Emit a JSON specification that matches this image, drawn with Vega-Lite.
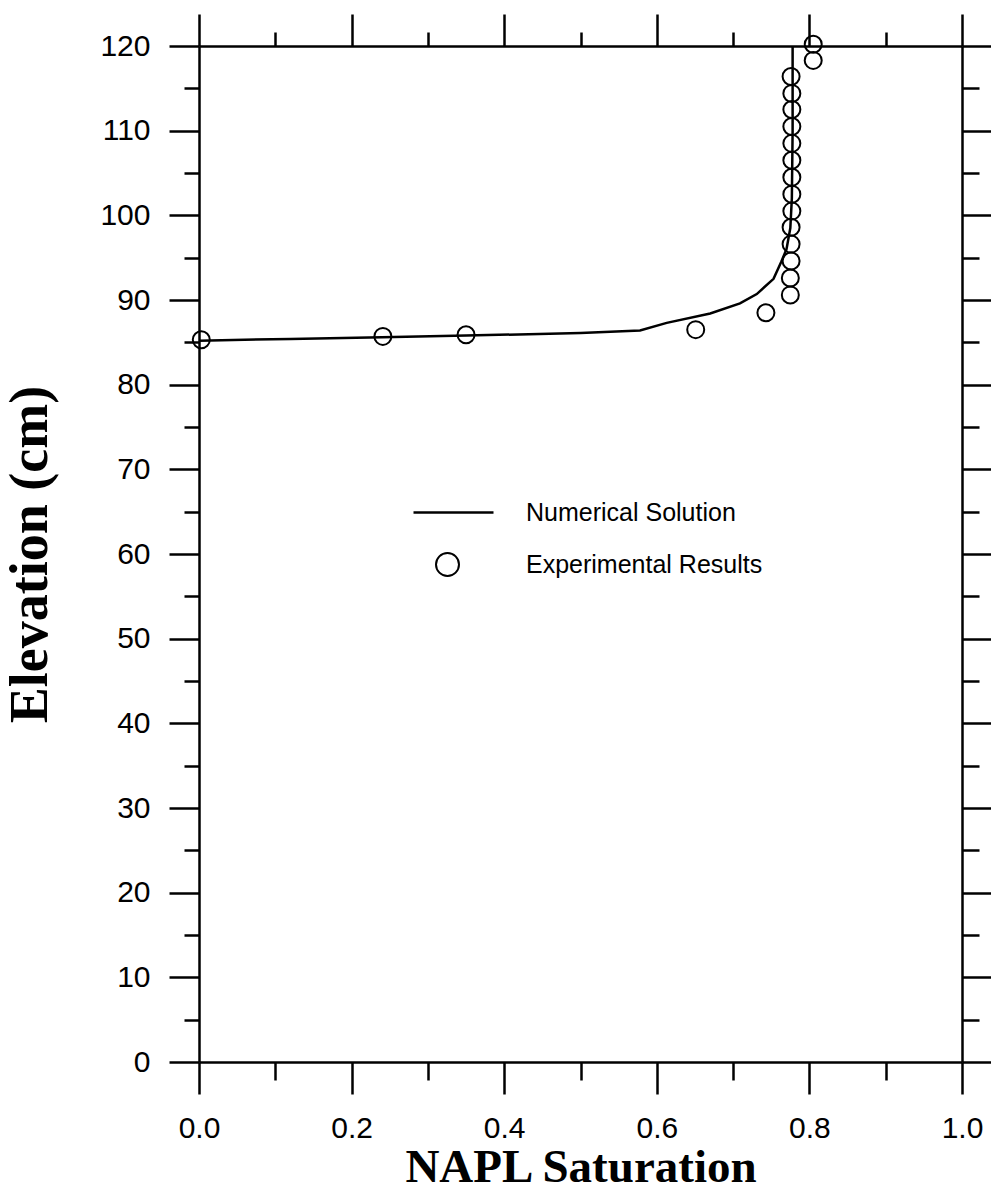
{
  "$schema": "https://vega.github.io/schema/vega-lite/v6.json",
  "width": 763,
  "height": 1016,
  "autosize": {"type": "none"},
  "padding": {"left": 199, "top": 46, "right": 29, "bottom": 129},
  "background": "white",
  "config": {
    "view": {"stroke": null},
    "axis": {
      "domainColor": "black",
      "domainWidth": 2.5,
      "tickColor": "black",
      "tickWidth": 2.5,
      "grid": false,
      "labelFont": "Liberation Sans",
      "labelColor": "black",
      "titleColor": "black",
      "titleFont": "Liberation Serif",
      "titleFontWeight": "bold"
    },
    "legend": {
      "labelFont": "Liberation Sans",
      "labelFontSize": 25,
      "labelColor": "black",
      "labelLimit": 500,
      "padding": 0
    }
  },
  "datasets": {
    "numerical": [
      {"s": 0.0, "e": 85.2, "series": "Numerical Solution"},
      {"s": 0.12, "e": 85.4, "series": "Numerical Solution"},
      {"s": 0.24, "e": 85.6, "series": "Numerical Solution"},
      {"s": 0.35, "e": 85.8, "series": "Numerical Solution"},
      {"s": 0.5, "e": 86.1, "series": "Numerical Solution"},
      {"s": 0.578, "e": 86.4, "series": "Numerical Solution"},
      {"s": 0.613, "e": 87.3, "series": "Numerical Solution"},
      {"s": 0.67, "e": 88.4, "series": "Numerical Solution"},
      {"s": 0.709, "e": 89.6, "series": "Numerical Solution"},
      {"s": 0.731, "e": 90.7, "series": "Numerical Solution"},
      {"s": 0.753, "e": 92.5, "series": "Numerical Solution"},
      {"s": 0.763, "e": 94.5, "series": "Numerical Solution"},
      {"s": 0.77, "e": 96.0, "series": "Numerical Solution"},
      {"s": 0.775, "e": 98.5, "series": "Numerical Solution"},
      {"s": 0.777, "e": 102, "series": "Numerical Solution"},
      {"s": 0.778, "e": 110, "series": "Numerical Solution"},
      {"s": 0.778, "e": 120, "series": "Numerical Solution"}
    ],
    "experimental": [
      {"s": 0.003, "e": 85.3, "series": "Experimental Results"},
      {"s": 0.241, "e": 85.7, "series": "Experimental Results"},
      {"s": 0.35, "e": 85.9, "series": "Experimental Results"},
      {"s": 0.651, "e": 86.5, "series": "Experimental Results"},
      {"s": 0.743, "e": 88.5, "series": "Experimental Results"},
      {"s": 0.775, "e": 90.6, "series": "Experimental Results"},
      {"s": 0.775, "e": 92.6, "series": "Experimental Results"},
      {"s": 0.776, "e": 94.6, "series": "Experimental Results"},
      {"s": 0.776, "e": 96.6, "series": "Experimental Results"},
      {"s": 0.776, "e": 98.6, "series": "Experimental Results"},
      {"s": 0.777, "e": 100.5, "series": "Experimental Results"},
      {"s": 0.777, "e": 102.5, "series": "Experimental Results"},
      {"s": 0.777, "e": 104.5, "series": "Experimental Results"},
      {"s": 0.777, "e": 106.5, "series": "Experimental Results"},
      {"s": 0.777, "e": 108.5, "series": "Experimental Results"},
      {"s": 0.777, "e": 110.5, "series": "Experimental Results"},
      {"s": 0.777, "e": 112.5, "series": "Experimental Results"},
      {"s": 0.777, "e": 114.4, "series": "Experimental Results"},
      {"s": 0.776, "e": 116.4, "series": "Experimental Results"},
      {"s": 0.805, "e": 118.3, "series": "Experimental Results"},
      {"s": 0.805, "e": 120.2, "series": "Experimental Results"}
    ]
  },
  "layer": [
    {
      "data": {"name": "numerical"},
      "mark": {"type": "line", "strokeWidth": 2.5},
      "encoding": {
        "x": {
          "field": "s", "type": "quantitative",
          "scale": {"domain": [0, 1], "nice": false, "zero": false},
          "axis": {
            "orient": "bottom",
            "title": "NAPL Saturation",
            "titleFontSize": 47,
            "titlePadding": 1,
            "values": [0, 0.1, 0.2, 0.3, 0.4, 0.5, 0.6, 0.7, 0.8, 0.9, 1.0],
            "labelExpr": "round(datum.value*10) % 2 == 0 ? format(datum.value, '.1f') : ''",
            "labelFontSize": 30,
            "labelPadding": 19,
            "labelFlush": false,
            "labelOverlap": false,
            "tickSize": {"condition": {"test": "round(datum.value*10) % 2 == 0", "value": 32}, "value": 18}
          }
        },
        "y": {
          "field": "e", "type": "quantitative",
          "scale": {"domain": [0, 120], "nice": false, "zero": false},
          "axis": {
            "orient": "left",
            "title": "Elevation (cm)",
            "titleFontSize": 54,
            "titlePadding": 42,
            "values": [0, 5, 10, 15, 20, 25, 30, 35, 40, 45, 50, 55, 60, 65, 70, 75, 80, 85, 90, 95, 100, 105, 110, 115, 120],
            "labelExpr": "datum.value % 10 == 0 ? format(datum.value, 'd') : ''",
            "labelFontSize": 30,
            "labelPadding": 19,
            "labelFlush": false,
            "labelOverlap": false,
            "tickSize": {"condition": {"test": "datum.value % 10 == 0", "value": 30}, "value": 15}
          }
        },
        "color": {
          "field": "series", "type": "nominal",
          "scale": {"domain": ["Numerical Solution"], "range": ["black"]},
          "legend": {
            "title": null,
            "orient": "none",
            "legendX": 213,
            "legendY": 425,
            "labelOffset": 31,
            "symbolType": "stroke",
            "symbolSize": 6400,
            "symbolStrokeWidth": 2.5,
            "symbolStrokeColor": "black"
          }
        },
        "order": {"field": "e", "type": "quantitative"}
      }
    },
    {
      "data": {"name": "experimental"},
      "mark": {"type": "point", "filled": false, "color": "black", "strokeWidth": 2, "size": 289, "opacity": 1},
      "encoding": {
        "x": {
          "field": "s", "type": "quantitative",
          "scale": {"domain": [0, 1], "nice": false, "zero": false},
          "axis": {
            "orient": "top",
            "title": null,
            "labels": false,
            "values": [0, 0.1, 0.2, 0.3, 0.4, 0.5, 0.6, 0.7, 0.8, 0.9, 1.0],
            "tickSize": {"condition": {"test": "round(datum.value*10) % 2 == 0", "value": 32}, "value": 14}
          }
        },
        "y": {
          "field": "e", "type": "quantitative",
          "scale": {"domain": [0, 120], "nice": false, "zero": false},
          "axis": {
            "orient": "right",
            "title": null,
            "labels": false,
            "values": [0, 5, 10, 15, 20, 25, 30, 35, 40, 45, 50, 55, 60, 65, 70, 75, 80, 85, 90, 95, 100, 105, 110, 115, 120],
            "tickSize": {"condition": {"test": "datum.value % 10 == 0", "value": 29}, "value": 17}
          }
        },
        "shape": {
          "field": "series", "type": "nominal",
          "scale": {"domain": ["Experimental Results"], "range": ["circle"]},
          "legend": {
            "title": null,
            "orient": "none",
            "legendX": 236,
            "legendY": 506,
            "labelOffset": 66,
            "symbolSize": 529,
            "symbolStrokeWidth": 2,
            "symbolStrokeColor": "black",
            "symbolFillColor": "transparent",
            "symbolOpacity": 1
          }
        }
      }
    }
  ],
  "resolve": {"axis": {"x": "independent", "y": "independent"}}
}
